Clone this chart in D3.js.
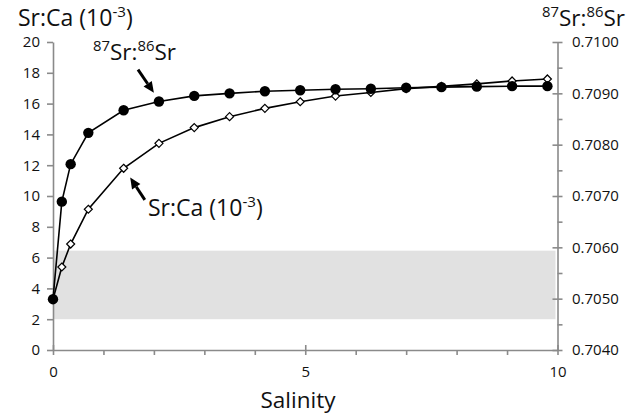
<!DOCTYPE html>
<html>
<head>
<meta charset="utf-8">
<script src="https://cdn.jsdelivr.net/npm/d3@7"></script>
<style>
  html, body { margin: 0; padding: 0; background: #fff; }
  svg { display: block; font-family: "Open Sans", Lato, sans-serif; }
</style>
</head>
<body>
<svg id="chart" width="639" height="418"></svg>
<script>
// ---- data ----
const salinity = [0, 0.175, 0.35, 0.7, 1.4, 2.1, 2.8, 3.5, 4.2, 4.9, 5.6, 6.3, 7.0, 7.7, 8.4, 9.1, 9.8];
const srIsotope = [0.70499, 0.70689, 0.70762, 0.70823, 0.70867, 0.70884, 0.70895, 0.70900, 0.70904,
                   0.70906, 0.70908, 0.70909, 0.70911, 0.70912, 0.70913, 0.70914, 0.70914];
const srCa = [3.3, 5.39, 6.88, 9.14, 11.8, 13.42, 14.44, 15.15, 15.69, 16.12, 16.49, 16.72, 16.97,
              17.12, 17.28, 17.47, 17.6];
const leftTicks = [0, 2, 4, 6, 8, 10, 12, 14, 16, 18, 20];
const rightTicks = [0.7040, 0.7050, 0.7060, 0.7070, 0.7080, 0.7090, 0.7100];
const rightMinor = [0.7045, 0.7055, 0.7065, 0.7075, 0.7085, 0.7095];
const xMajor = [0, 5, 10];
const xMinor = [1, 2, 3, 4, 6, 7, 8, 9];
const shadedBand = [2, 6.45]; // Sr:Ca range of shaded band

const svg = d3.select("#chart");
const X0 = 53, X1 = 557.5, Y0 = 350, Y1 = 42;
const x = d3.scaleLinear().domain([0, 10]).range([X0, X1]);
const yL = d3.scaleLinear().domain([0, 20]).range([Y0, Y1]);
const yR = d3.scaleLinear().domain([0.704, 0.710]).range([Y0, Y1]);

const axisColor = "#8a8a8a";
const textColor = "#111";
const FONT = '"Open Sans", Lato, sans-serif';

// shaded band
svg.append("rect")
  .attr("x", x(0)).attr("width", x(10) - x(0) - 2)
  .attr("y", yL(shadedBand[1])).attr("height", yL(shadedBand[0]) - yL(shadedBand[1]))
  .attr("fill", "#e1e1e1");

// left axis
const gL = svg.append("g").attr("transform", `translate(${X0},0)`)
  .call(d3.axisLeft(yL).tickValues(leftTicks).tickSize(6).tickSizeOuter(0).tickPadding(7).tickFormat(d3.format("d")));
// right axis major
const gR = svg.append("g").attr("transform", `translate(${X1},0)`)
  .call(d3.axisRight(yR).tickValues(rightTicks).tickSize(5).tickSizeOuter(0).tickPadding(9.5).tickFormat(d3.format(".4f")));
gR.selectAll(".tick line").attr("x1", -5);
const gRm = svg.append("g").attr("transform", `translate(${X1},0)`)
  .call(d3.axisRight(yR).tickValues(rightMinor).tickSize(5).tickSizeOuter(0).tickFormat(""));
gRm.select(".domain").remove();
// bottom axis
const gB = svg.append("g").attr("transform", `translate(0,${Y0})`)
  .call(d3.axisBottom(x).tickValues(xMajor).tickSize(5).tickSizeOuter(0).tickPadding(11).tickFormat(d3.format("d")));
gB.selectAll(".tick line").attr("y1", -5);
const gBm = svg.append("g").attr("transform", `translate(0,${Y0})`)
  .call(d3.axisBottom(x).tickValues(xMinor).tickSize(5).tickSizeOuter(0).tickFormat(""));
gBm.select(".domain").remove();

svg.selectAll(".domain, .tick line").attr("stroke", axisColor).attr("stroke-width", 1.6);
svg.selectAll(".tick text").attr("fill", textColor).style("font-size", "15px").style("font-family", FONT);

// Sr:Ca series (open diamonds)
const ptsCa = salinity.map((s, i) => [x(s), yL(srCa[i])]);
svg.append("path").attr("d", d3.line()(ptsCa)).attr("fill", "none").attr("stroke", "#000").attr("stroke-width", 1.6);
svg.selectAll(".dia").data(ptsCa).enter().append("path")
  .attr("d", d => `M${d[0]},${d[1]-4}L${d[0]+4},${d[1]}L${d[0]},${d[1]+4}L${d[0]-4},${d[1]}Z`)
  .attr("fill", "#fff").attr("stroke", "#000").attr("stroke-width", 1.2);

// 87Sr/86Sr series (filled circles)
const ptsSr = salinity.map((s, i) => [x(s), yR(srIsotope[i])]);
svg.append("path").attr("d", d3.line()(ptsSr)).attr("fill", "none").attr("stroke", "#000").attr("stroke-width", 1.6);
svg.selectAll(".dot").data(ptsSr).enter().append("circle")
  .attr("cx", d => d[0]).attr("cy", d => d[1]).attr("r", 5.2).attr("fill", "#000");

// text helpers
function srRatio(g, px, py, size) {
  const t = g.append("text").attr("x", px).attr("y", py).attr("fill", textColor)
    .style("font-size", size + "px").style("font-family", FONT);
  t.append("tspan").text("87").style("font-size", (size * 0.66) + "px").attr("dy", -size * 0.38);
  t.append("tspan").text("Sr:").attr("dy", size * 0.38);
  t.append("tspan").text("86").style("font-size", (size * 0.66) + "px").attr("dy", -size * 0.38);
  t.append("tspan").text("Sr").attr("dy", size * 0.38);
  return t;
}
function srCaLabel(g, px, py, size) {
  const t = g.append("text").attr("x", px).attr("y", py).attr("fill", textColor)
    .style("font-size", size + "px").style("font-family", FONT);
  t.append("tspan").text("Sr:Ca (10");
  t.append("tspan").text("-3").style("font-size", (size * 0.66) + "px").attr("dy", -size * 0.38);
  t.append("tspan").text(")").attr("dy", size * 0.38);
  return t;
}

// axis titles
srCaLabel(svg, 18, 26, 23);
srRatio(svg, 542, 26, 22.5);
svg.append("text").attr("x", 298).attr("y", 408).attr("text-anchor", "middle")
  .attr("fill", textColor).style("font-size", "22.5px").style("font-family", FONT).text("Salinity");

// annotations
srRatio(svg, 93, 60, 22.5);
srCaLabel(svg, 148, 216, 23);

function arrow(x1, y1, x2, y2) {
  const a = Math.atan2(y2 - y1, x2 - x1);
  const L = 11, W = 5;
  const bx = x2 - L * Math.cos(a), by = y2 - L * Math.sin(a);
  svg.append("line").attr("x1", x1).attr("y1", y1).attr("x2", bx).attr("y2", by)
    .attr("stroke", "#000").attr("stroke-width", 3);
  svg.append("path")
    .attr("d", `M${x2},${y2}L${bx - W * Math.sin(a)},${by + W * Math.cos(a)}L${bx + W * Math.sin(a)},${by - W * Math.cos(a)}Z`)
    .attr("fill", "#000");
}
arrow(x(1.685), yL(18.2), x(2.0), yL(16.7));
arrow(x(1.82), yL(9.75), x(1.53), yL(11.2));
</script>
</body>
</html>
